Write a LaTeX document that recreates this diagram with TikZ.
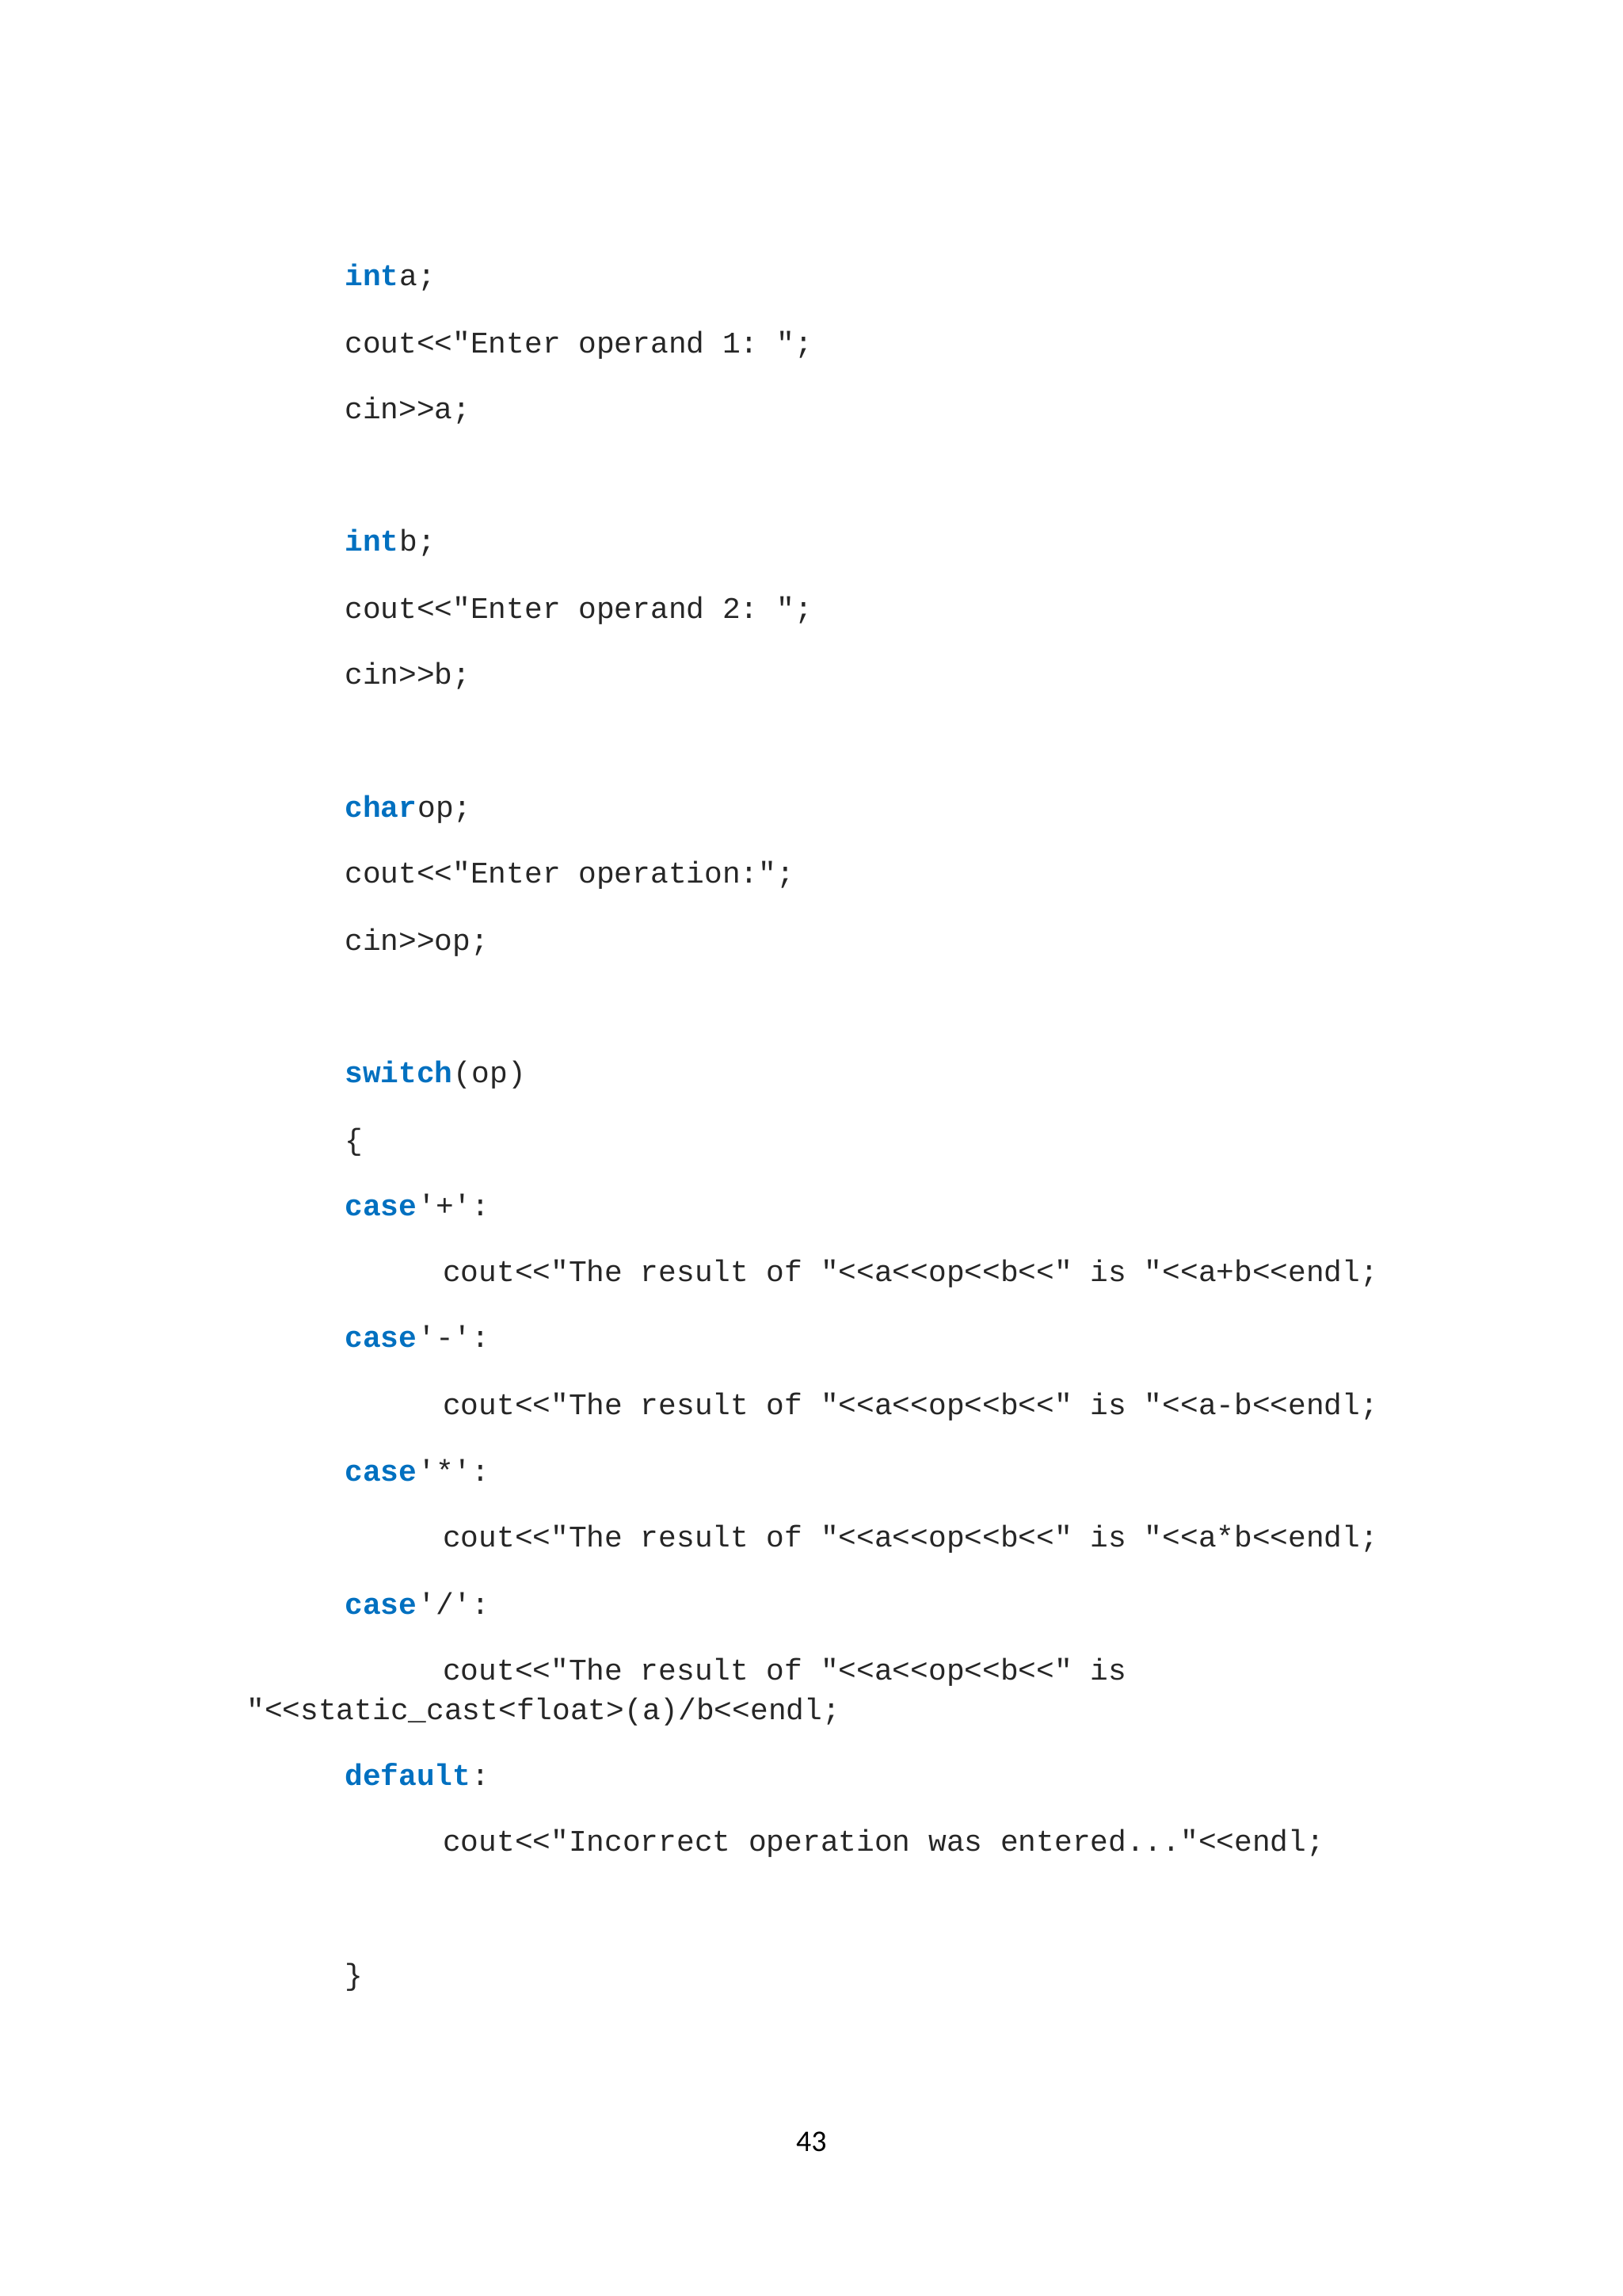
\documentclass[tikz,border=0pt]{standalone}
\usepackage{fontspec}
\setmonofont{Liberation Mono}
\newfontfamily\pagefont{Carlito}
\definecolor{kw}{HTML}{0070C0}
\begin{document}
\begin{tikzpicture}[x=1pt,y=1pt,
  code/.style={anchor=base west,inner sep=0pt,font=\ttfamily\fontsize{11}{13}\selectfont,text=black!85},
  key/.style={code,text=kw,font=\ttfamily\bfseries\fontsize{11}{13}\selectfont}]
\useasboundingbox (0,0) rectangle (595.3,-842.2);
\def\X{126.3}\def\Y{162.3}
\newcommand\codeline[3]{\node[code] at (#1,{-(#2+5)*0.5373}) {#3};}
\newcommand\keyline[4]{\node[key] (k#2) at (#1,{-(#2+5)*0.5373}) {#3};\node[code] at (k#2.base east) [anchor=base west] {#4};}
\keyline{\X}{190}{int}{\detokenize{ a;}}
\codeline{\X}{236}{\detokenize{cout<<"Enter operand 1: ";}}
\codeline{\X}{281}{\detokenize{cin>>a;}}
\keyline{\X}{371}{int}{\detokenize{ b;}}
\codeline{\X}{417}{\detokenize{cout<<"Enter operand 2: ";}}
\codeline{\X}{462}{\detokenize{cin>>b;}}
\keyline{\X}{553}{char}{\detokenize{ op;}}
\codeline{\X}{598}{\detokenize{cout<<"Enter operation:";}}
\codeline{\X}{644}{\detokenize{cin>>op;}}
\keyline{\X}{734}{switch}{\detokenize{(op)}}
\codeline{\X}{780}{\{}
\keyline{\X}{825}{case}{\detokenize{ '+':}}
\codeline{\Y}{870}{\detokenize{cout<<"The result of "<<a<<op<<b<<" is "<<a+b<<endl;}}
\keyline{\X}{915}{case}{\detokenize{ '-':}}
\codeline{\Y}{961}{\detokenize{cout<<"The result of "<<a<<op<<b<<" is "<<a-b<<endl;}}
\keyline{\X}{1006}{case}{\detokenize{ '*':}}
\codeline{\Y}{1051}{\detokenize{cout<<"The result of "<<a<<op<<b<<" is "<<a*b<<endl;}}
\keyline{\X}{1097}{case}{\detokenize{ '/':}}
\codeline{\Y}{1142}{\detokenize{cout<<"The result of "<<a<<op<<b<<" is}}
\codeline{90.3}{1169}{\detokenize{"<<static_cast<float>(a)/b<<endl;}}
\keyline{\X}{1214}{default}{:}
\codeline{\Y}{1259}{\detokenize{cout<<"Incorrect operation was entered..."<<endl;}}
\codeline{\X}{1350}{\}}
\node[font=\pagefont\fontsize{11}{13}\selectfont,anchor=base] (pg) at ({554*0.5373},{-(1464+5)*0.5373}) {43};
\end{tikzpicture}
\end{document}
